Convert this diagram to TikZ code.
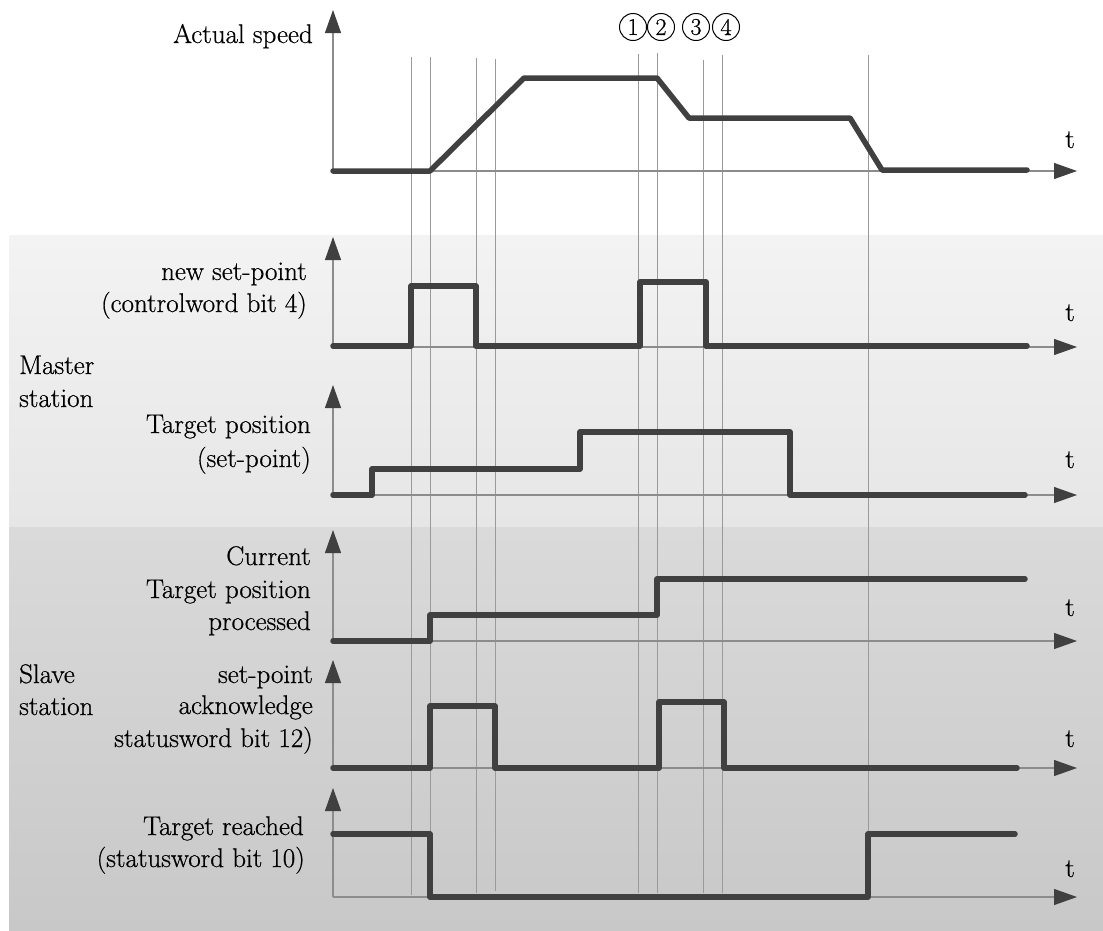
\documentclass[tikz,border=0pt]{standalone}
\usepackage{fontspec}
\newfontfamily\lblfont{Latin Modern Roman}[FakeBold=0.6]
\usetikzlibrary{arrows.meta}
\definecolor{sig}{HTML}{404040}
\definecolor{axgray}{HTML}{8C8C8C}
\definecolor{gridgray}{HTML}{9A9A9A}
\definecolor{mtop}{HTML}{F3F3F3}
\definecolor{mbot}{HTML}{E6E6E6}
\definecolor{stop}{HTML}{DADADA}
\definecolor{sbot}{HTML}{C8C8C8}
\tikzset{
  sigline/.style={draw=sig,line width=5.5pt,line cap=round,line join=round},
  axisline/.style={draw=axgray,line width=1.1pt,-{Triangle[length=23pt,width=16pt,color=sig,fill=sig]}},
  gridline/.style={draw=gridgray,line width=1pt},
  lbl/.style={font=\lblfont\fontsize{27}{32}\selectfont,inner sep=0pt,text=black},
  rlbl/.style={lbl,anchor=base east},
  llbl/.style={lbl,anchor=base west},
  tlbl/.style={lbl,anchor=base},
  circnum/.style={circle,draw=black,line width=1pt,minimum size=27pt,inner sep=0pt,font=\lblfont\fontsize{24}{24}\selectfont}
}
\begin{document}
\begin{tikzpicture}[x=1pt,y=-1pt]
\useasboundingbox (0,0) rectangle (1103,930);
% backgrounds
\shade[top color=mtop,bottom color=mbot] (9,235) rectangle (1103,527);
\shade[top color=stop,bottom color=sbot] (9,527) rectangle (1103,930);
% grid lines
\draw[gridline] (411,57) -- (411,895);
\draw[gridline] (430,57) -- (430,895);
\draw[gridline] (476,58) -- (476,893);
\draw[gridline] (495,59) -- (495,891);
\draw[gridline] (638,54) -- (638,893);
\draw[gridline] (657,53) -- (657,893);
\draw[gridline] (703,60) -- (703,893);
\draw[gridline] (722,55) -- (722,893);
\draw[gridline] (868,55) -- (868,897);
% axes
\foreach \base/\top in {171/10, 347/237, 495/385, 641/530, 768/660, 897/788}{
  \draw[axisline] (333,\base) -- (333,\top);
  \draw[axisline] (333,\base) -- (1077,\base);
}
% signals
\draw[sigline] (333,171) -- (430,171) -- (524,78) -- (657,78) -- (689,118) -- (850,118) -- (882,170) -- (1027,170);
\draw[sigline] (333,346) -- (411,346) -- (411,286) -- (476,286) -- (476,346) -- (640,346) -- (640,282) -- (706,282) -- (706,346) -- (1027,346);
\draw[sigline] (333,495) -- (372,495) -- (372,469) -- (580,469) -- (580,432) -- (790,432) -- (790,495) -- (1025,495);
\draw[sigline] (333,641) -- (430,641) -- (430,615) -- (657,615) -- (657,579) -- (1025,579);
\draw[sigline] (333,768) -- (430,768) -- (430,706) -- (495,706) -- (495,768) -- (659,768) -- (659,702) -- (724,702) -- (724,768) -- (1017,768);
\draw[sigline] (333,834) -- (430,834) -- (430,897) -- (868,897) -- (868,834) -- (1015,834);
% labels
\node[rlbl] (speed) at (313,43) {Actual speed};
\node[rlbl] (nsp1) at (307,280) {new set-point};
\node[rlbl] (nsp2) at (307,312) {(controlword bit 4)};
\node[llbl] (mst1) at (19,374) {Master};
\node[llbl] (mst2) at (19,407) {station};
\node[rlbl] (tp1) at (311,433) {Target position};
\node[rlbl] (tp2) at (311,467) {(set-point)};
\node[rlbl] (ctp1) at (311,565) {Current};
\node[rlbl] (ctp2) at (311,598) {Target position};
\node[rlbl] (ctp3) at (311,630) {processed};
\node[llbl] (slv1) at (19,683) {Slave};
\node[llbl] (slv2) at (19,715) {station};
\node[rlbl] (ack1) at (313,683) {set-point};
\node[rlbl] (ack2) at (313,714) {acknowledge};
\node[rlbl] (ack3) at (313,747) {statusword bit 12)};
\node[rlbl] (tr1) at (304,835) {Target reached};
\node[rlbl] (tr2) at (305,867) {(statusword bit 10)};
% t labels
\node[tlbl] (t1) at (1070,148) {t};
\node[tlbl] (t2) at (1070,321) {t};
\node[tlbl] (t3) at (1070,468) {t};
\node[tlbl] (t4) at (1070,616) {t};
\node[tlbl] (t5) at (1070,747) {t};
\node[tlbl] (t6) at (1070,877) {t};
% circled numbers
\node[circnum] (c1) at (633,27) {1};
\node[circnum] (c2) at (661,27) {2};
\node[circnum] (c3) at (696,27) {3};
\node[circnum] (c4) at (726,27) {4};
\end{tikzpicture}
\end{document}
